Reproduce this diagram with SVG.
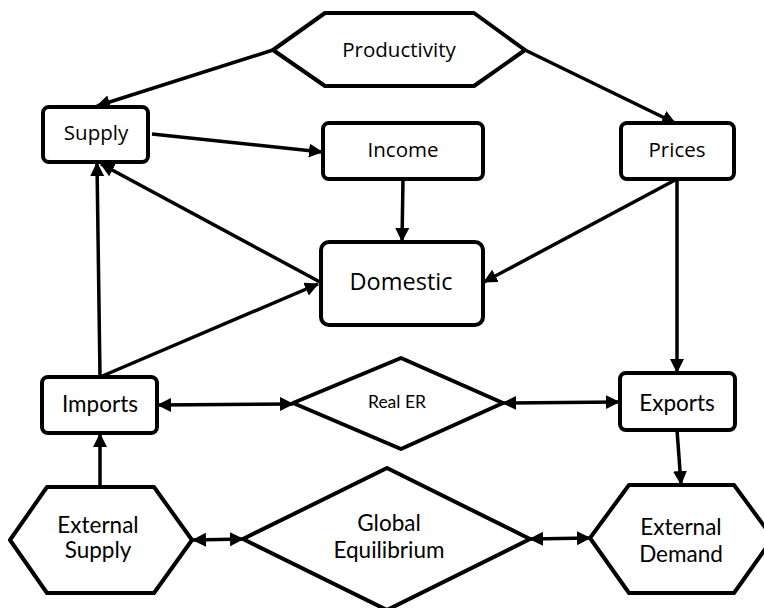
<svg xmlns="http://www.w3.org/2000/svg" width="764" height="608" viewBox="0 0 764 608">
<defs>
<marker id="ah" markerUnits="userSpaceOnUse" markerWidth="16" markerHeight="15" refX="13" refY="7" orient="auto-start-reverse">
<path d="M0,0 L14,7 L0,14 z" fill="#000"/>
</marker>
<style>
.n{fill:#fff;stroke:#000;stroke-width:4;stroke-linejoin:round}
.c{fill:none;stroke:#000;stroke-width:3.5;marker-end:url(#ah)}
.d{marker-start:url(#ah)}
.t1{font-family:"Open Sans","DejaVu Sans",sans-serif;font-size:20.5px;fill:#000;text-anchor:middle}
.t2{font-family:Lato,"Open Sans",sans-serif;font-size:22.5px;fill:#000;text-anchor:middle}
</style>
</defs>
<rect width="764" height="608" fill="#fff"/>
<g id="connectors">
<path class="c" d="M273,50 L97,106"/>
<path class="c" d="M525,50 L675,123"/>
<path class="c" d="M152,134 L322,152"/>
<path class="c" d="M403,179 L402,241"/>
<path class="c" d="M677,179 L484,282"/>
<path class="c" d="M677,179 L677,372"/>
<path class="c" d="M320,282 L101,164"/>
<path class="c" d="M100,377 L97,163"/>
<path class="c" d="M100,377 L318,284"/>
<path class="c" d="M100,487 L100,434"/>
<path class="c" d="M677,430 L681,484"/>
</g>
<g id="productivity"><polygon class="n" points="273,50 325,13 474,13 525,50 474,86 325,86"/><text class="t1" x="399" y="57">Productivity</text></g>
<g id="supply"><rect class="n" x="43" y="107" width="105" height="55" rx="6"/><text class="t1" x="96" y="140">Supply</text></g>
<g id="income"><rect class="n" x="323" y="123" width="160" height="56" rx="6"/><text class="t1" x="403" y="157">Income</text></g>
<g id="prices"><rect class="n" x="621" y="123" width="113" height="56" rx="6"/><text class="t1" x="677" y="157">Prices</text></g>
<g id="domestic"><rect class="n" x="321" y="242" width="162" height="83" rx="8"/><text class="t1" x="401" y="290" style="font-size:23.5px">Domestic</text></g>
<g id="imports"><rect class="n" x="42" y="377" width="115" height="56" rx="6"/><text class="t2" x="100" y="412">Imports</text></g>
<g id="exports"><rect class="n" x="620" y="373" width="115" height="57" rx="6"/><text class="t2" x="677" y="411">Exports</text></g>
<g id="real-er"><polygon class="n" points="293,403 401,358 503,403 401,449"/><text class="t2" x="397" y="408" style="font-size:17.5px">Real ER</text></g>
<g id="global-equilibrium"><polygon class="n" points="243,539 387,468 530,539 387,610"/><text class="t2" x="389" y="531">Global</text><text class="t2" x="389" y="558">Equilibrium</text></g>
<g id="external-supply"><polygon class="n" points="10,540 47,487 154,487 192,540 154,593 47,593"/><text class="t2" x="98" y="533">External</text><text class="t2" x="98" y="558">Supply</text></g>
<g id="external-demand"><polygon class="n" points="590,538 629,485 734,485 773,538 734,593 629,593"/><text class="t2" x="681" y="535">External</text><text class="t2" x="681" y="562">Demand</text></g>
<g id="connectors-bidirectional">
<path class="c d" d="M158,405 L293,404"/>
<path class="c d" d="M503,403 L619,402"/>
<path class="c d" d="M193,540 L243,539"/>
<path class="c d" d="M530,539 L590,538"/>
</g>
</svg>
